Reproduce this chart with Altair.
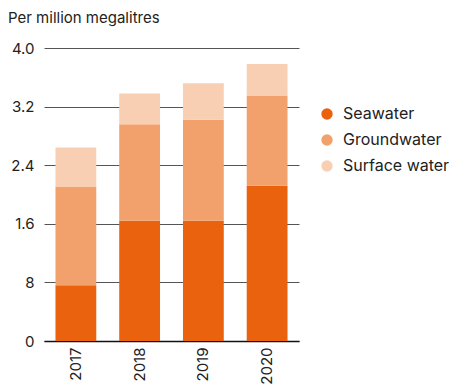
import altair as alt
import pandas as pd

years = ["2017", "2018", "2019", "2020"]
sources = ["Seawater", "Groundwater", "Surface water"]
seawater = [0.76, 1.64, 1.64, 2.12]
groundwater = [1.35, 1.32, 1.38, 1.23]
surface = [0.53, 0.42, 0.50, 0.43]
colors = ["#EA610E", "#F2A06C", "#F9CFB4"]
y_ticks = [0, 0.8, 1.6, 2.4, 3.2, 4.0]

rows = []
for i, y in enumerate(years):
    for k, (s, vals) in enumerate(zip(sources, [seawater, groundwater, surface])):
        rows.append({"year": y, "source": s, "value": vals[i], "ord": k})
df = pd.DataFrame(rows)

FONT = "Inter"

chart = alt.Chart(df).mark_bar().encode(
    x=alt.X("year:N", title=None,
            scale=alt.Scale(paddingInner=0.36, paddingOuter=0.18),
            axis=alt.Axis(labelAngle=-90, labelFontSize=15, labelColor="#222",
                          labelFont=FONT, ticks=False, domain=True, domainColor="#111",
                          domainWidth=1.5, labelPadding=6, labelBaseline="middle")),
    y=alt.Y("value:Q", stack="zero", title=None,
            scale=alt.Scale(domain=[0, 4.0], nice=False),
            axis=alt.Axis(values=y_ticks, domain=False, ticks=False, labelPadding=10,
                          labelFontSize=15, labelColor="#222", labelFont=FONT,
                          gridColor="#555", gridWidth=1, gridOpacity=1,
                          labelExpr="datum.value == 0.8 ? '8' : (datum.value == 0 ? '0' : format(datum.value, '.1f'))")),
    color=alt.Color("source:N", scale=alt.Scale(domain=sources, range=colors),
                    legend=alt.Legend(title=None, orient="none", legendX=275, legendY=58,
                                      symbolType="circle", symbolSize=130, symbolStrokeWidth=0,
                                      labelFontSize=16, labelFont=FONT, labelColor="#222",
                                      labelOffset=8, rowPadding=10)),
    order=alt.Order("ord:Q", sort="ascending"),
).properties(
    width=255, height=293,
    autosize=alt.AutoSizeParams(type="none"),
    padding={"left": 36, "top": 40, "right": 150, "bottom": 45},
    title=alt.TitleParams("Per million megalitres", anchor="start", frame="group",
                          dx=-36, offset=15, fontSize=15, font=FONT,
                          fontWeight="normal", color="#222"),
).configure_view(stroke=None).configure_axis(grid=True).configure_axisX(grid=False)

chart.save("out.html", embed_options={"renderer": "svg", "actions": False})
